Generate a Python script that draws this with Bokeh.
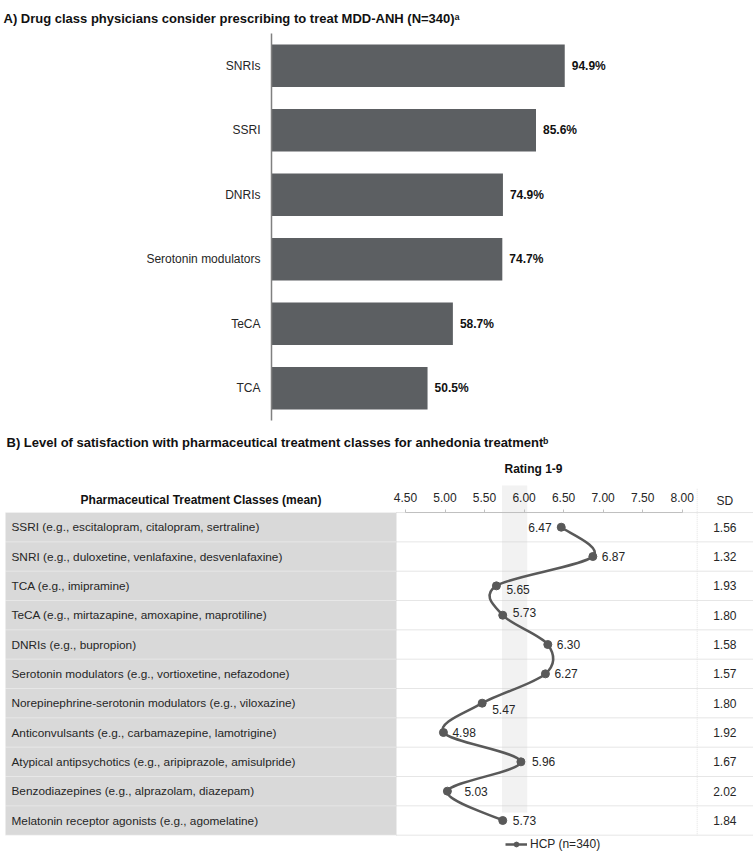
from bokeh.plotting import figure
from bokeh.models import (Range1d, FactorRange, ColumnDataSource, FixedTicker,
                          NumeralTickFormatter, Legend, LegendItem)
from bokeh.layouts import column
from bokeh.embed import file_html
from bokeh.resources import INLINE
from bokeh.core.properties import value

# ---------------- data ----------------
drug_classes = ["SNRIs", "SSRI", "DNRIs", "Serotonin modulators", "TeCA", "TCA"]
consider_pct = [94.9, 85.6, 74.9, 74.7, 58.7, 50.5]

treatment_classes = [
    "SSRI (e.g., escitalopram, citalopram, sertraline)",
    "SNRI (e.g., duloxetine, venlafaxine, desvenlafaxine)",
    "TCA (e.g., imipramine)",
    "TeCA (e.g., mirtazapine, amoxapine, maprotiline)",
    "DNRIs (e.g., bupropion)",
    "Serotonin modulators (e.g., vortioxetine, nefazodone)",
    "Norepinephrine-serotonin modulators (e.g., viloxazine)",
    "Anticonvulsants (e.g., carbamazepine, lamotrigine)",
    "Atypical antipsychotics (e.g., aripiprazole, amisulpride)",
    "Benzodiazepines (e.g., alprazolam, diazepam)",
    "Melatonin receptor agonists (e.g., agomelatine)",
]
mean_rating = [6.47, 6.87, 5.65, 5.73, 6.30, 6.27, 5.47, 4.98, 5.96, 5.03, 5.73]
sd_rating = [1.56, 1.32, 1.93, 1.80, 1.58, 1.57, 1.80, 1.92, 1.67, 2.02, 1.84]
rating_ticks = [4.5, 5.0, 5.5, 6.0, 6.5, 7.0, 7.5, 8.0]
series_name = "HCP (n=340)"

# label offsets (style, px)
lbl_dx = [-33, 9, 10, 10, 9, 9, 10, 9, 11, 17, 10]
lbl_dy = [0, 0, 4, -3, 0, 0, 6, 0, 0, 0, 0]

FONT = value("Liberation Sans")
TXT = "#262626"
W = 753
HA = 422
HB = 855 - HA

# ---------------- panel A ----------------
pA = figure(width=W, height=HA, output_backend="svg", toolbar_location=None,
            x_range=Range1d(0, 153.4),
            y_range=FactorRange(factors=drug_classes[::-1]),
            x_axis_location=None,
            min_border_left=271, min_border_right=8, min_border_top=0,
            min_border_bottom=2,
            title="A) Drug class physicians consider prescribing to treat MDD-ANH (N=340)\u1d43")
pA.frame_align = False
pA.title.text_font = "Liberation Sans"
pA.title.text_font_size = "13px"
pA.title.text_font_style = "bold"
pA.title.text_color = "#111111"
pA.title.offset = -268
pA.title.standoff = 16
pA.outline_line_color = None
pA.grid.visible = False
pA.background_fill_color = None
pA.border_fill_color = None

srcA = ColumnDataSource(dict(cls=drug_classes, pct=consider_pct,
                             lbl=[f"{v:.1f}%" for v in consider_pct]))
pA.hbar(y="cls", right="pct", left=0, height=0.66, source=srcA,
        fill_color="#5c5f62", line_color=None)
pA.text(x="pct", y="cls", text="lbl", source=srcA, x_offset=7,
        text_baseline="middle", text_align="left", text_font=FONT,
        text_font_size="12px", text_font_style="bold", text_color="#111111")

ya = pA.yaxis[0]
ya.major_tick_out = 0
ya.major_tick_in = 0
ya.minor_tick_out = 0
ya.axis_line_color = "#808080"
ya.axis_line_width = 1.5
ya.major_label_standoff = 11
ya.major_label_text_font = "Liberation Sans"
ya.major_label_text_font_size = "12px"
ya.major_label_text_color = TXT

# ---------------- panel B ----------------
PX = 79.05          # px per rating unit
X_AT = 405.0        # frame x (px) of rating 4.5
XL = 4.5 - X_AT / PX
XR = 4.5 + (W - X_AT) / PX
ROW_H = 29.33
ROW0 = 526.7 - HA   # frame y (px) of first row centre
YT = -ROW0 / ROW_H
YB = (HB - ROW0) / ROW_H

pB = figure(width=W, height=HB, output_backend="svg", toolbar_location=None,
            x_range=Range1d(XL, XR), y_range=Range1d(YB, YT),
            x_axis_location="above", y_axis_location=None, min_border=0)
pB.frame_align = False
pB.outline_line_color = None
pB.grid.visible = False

n = len(mean_rating)
rows = list(range(n))
gray_left = 4.5 - 400 / PX
gray_right = 4.5 - 9 / PX

# grey column with class names
pB.quad(left=[gray_left], right=[gray_right], top=[-0.5], bottom=[n - 0.5],
        fill_color="#d9d9d9", line_color=None)
# light band
pB.quad(left=[5.72], right=[6.04], top=[-1.42], bottom=[9.73],
        fill_color="#f2f2f2", line_color=None)
# separators
seps = [k - 0.5 for k in range(n + 1)]
pB.segment(x0=[gray_left] * len(seps), x1=[gray_right] * len(seps), y0=seps, y1=seps,
           line_color="#f4f4f4", line_width=1, line_dash="1 1")
pB.segment(x0=[gray_right] * len(seps), x1=[XR] * len(seps), y0=seps, y1=seps,
           line_color="#cccccc", line_width=1, line_dash="1 1")
# SD column divider
pB.segment(x0=[8.19], x1=[8.19], y0=[-1.31], y1=[n - 0.5],
           line_color="#e2e2e2", line_width=1, line_dash="1 1")

# smoothed curve through the points
px_ = [mean_rating[0]] + mean_rating + [mean_rating[-1]]
py_ = [rows[0]] + rows + [rows[-1]]
t = 1.0 / 6.0
bz = dict(x0=[], y0=[], x1=[], y1=[], cx0=[], cy0=[], cx1=[], cy1=[])
for i in range(n - 1):
    a, b, c, d = i, i + 1, i + 2, i + 3
    bz["x0"].append(px_[b]); bz["y0"].append(py_[b])
    bz["x1"].append(px_[c]); bz["y1"].append(py_[c])
    bz["cx0"].append(px_[b] + (px_[c] - px_[a]) * t)
    bz["cy0"].append(py_[b] + (py_[c] - py_[a]) * t)
    bz["cx1"].append(px_[c] - (px_[d] - px_[b]) * t)
    bz["cy1"].append(py_[c] - (py_[d] - py_[b]) * t)
bez = pB.bezier(source=ColumnDataSource(bz), x0="x0", y0="y0", x1="x1", y1="y1",
                cx0="cx0", cy0="cy0", cx1="cx1", cy1="cy1",
                line_color="#595959", line_width=2.5)

srcB = ColumnDataSource(dict(m=mean_rating, r=rows,
                             ml=[f"{v:.2f}" for v in mean_rating],
                             sd=[f"{v:.2f}" for v in sd_rating],
                             cls=treatment_classes, dx=lbl_dx, dy=lbl_dy))
pts = pB.scatter(x="m", y="r", source=srcB, size=8, fill_color="#595959",
                 line_color="#595959")
pB.text(x="m", y="r", text="ml", source=srcB, x_offset="dx", y_offset="dy",
        text_align="left", text_baseline="middle", text_font=FONT,
        text_font_size="12px", text_color=TXT)
pB.text(x=4.5 - 394 / PX, y="r", text="cls", source=srcB, text_align="left",
        text_baseline="middle", text_font=FONT, text_font_size="11.8px",
        text_color=TXT)
pB.text(x=8.54, y="r", text="sd", source=srcB, text_align="center",
        text_baseline="middle", text_font=FONT, text_font_size="12px",
        text_color=TXT)

# headers
pB.text(x=[1.913], y=[-0.93], text=["Pharmaceutical Treatment Classes (mean)"],
        text_align="center", text_baseline="middle", text_font=FONT,
        text_font_size="12px", text_font_style="bold", text_color="#111111")
pB.text(x=[8.54], y=[-0.91], text=["SD"], text_align="center",
        text_baseline="middle", text_font=FONT, text_font_size="12px",
        text_color=TXT)
pB.text(x=[6.119], y=[-1.99], text=["Rating 1-9"], text_align="center",
        text_baseline="middle", text_font=FONT, text_font_size="12px",
        text_font_style="bold", text_color="#111111")
pB.text(x=[4.5 - 399 / PX], y=[-2.89],
        text=["B) Level of satisfaction with pharmaceutical treatment classes for anhedonia treatment\u1d47"],
        text_align="left", text_baseline="middle", text_font=FONT,
        text_font_size="13px", text_font_style="bold", text_color="#111111")

xa = pB.xaxis[0]
xa.fixed_location = -0.5
xa.bounds = (4.5, 8.0)
xa.ticker = FixedTicker(ticks=rating_ticks)
xa.formatter = NumeralTickFormatter(format="0.00")
xa.axis_line_color = "#c0c0c0"
xa.major_tick_line_color = "#c0c0c0"
xa.major_tick_out = 3
xa.major_tick_in = 0
xa.minor_tick_out = 0
xa.minor_tick_in = 0
xa.major_label_standoff = 8
xa.major_label_text_font = "Liberation Sans"
xa.major_label_text_font_size = "12px"
xa.major_label_text_color = TXT

legend = Legend(items=[LegendItem(label=series_name, renderers=[bez, pts])],
                location=(505, 4), padding=0, margin=0, spacing=0,
                label_standoff=3, glyph_width=22, glyph_height=12,
                border_line_color=None, background_fill_alpha=0,
                label_text_font="Liberation Sans", label_text_font_size="12px",
                label_text_color=TXT)
pB.add_layout(legend)

layout = column(pA, pB, spacing=0)
open("out.html", "w").write(file_html(layout, INLINE))
